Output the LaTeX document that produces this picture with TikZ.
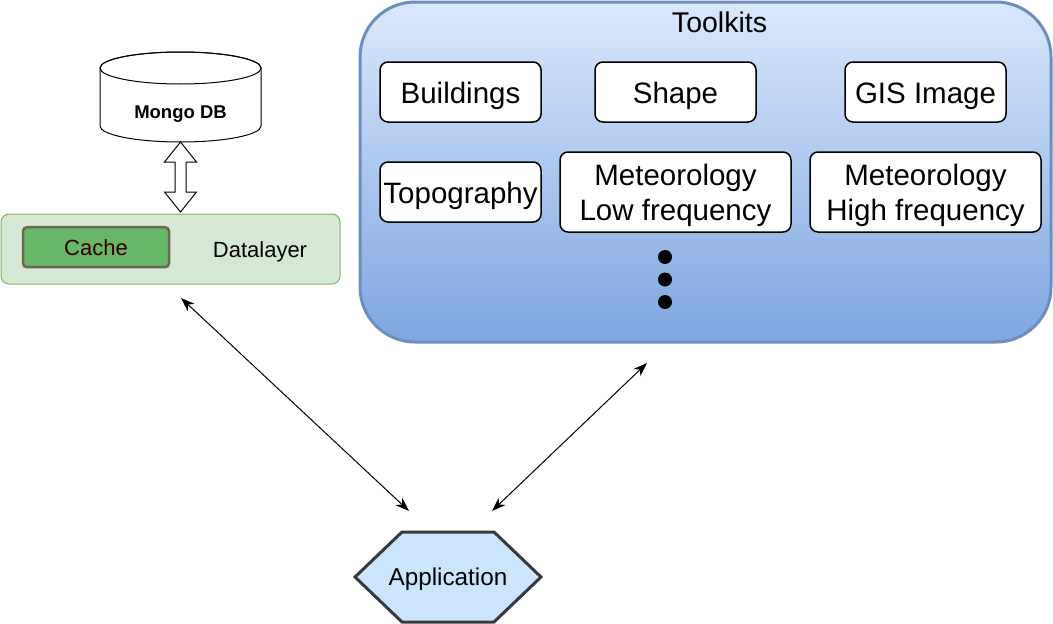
\documentclass[tikz,border=0pt]{standalone}
\usepackage{fontspec}
\setmainfont{Liberation Sans}
\usetikzlibrary{arrows.meta}
\definecolor{tkstroke}{HTML}{6C8EBF}
\definecolor{tktop}{HTML}{DAE8FC}
\definecolor{tkbot}{HTML}{7EA6E0}
\definecolor{dlfill}{HTML}{D5E8D4}
\definecolor{dlstroke}{HTML}{82B366}
\definecolor{cachefill}{HTML}{67B767}
\definecolor{cachestroke}{HTML}{6B6651}
\definecolor{cachetext}{HTML}{330000}
\definecolor{appfill}{HTML}{CCE5FF}
\definecolor{appstroke}{HTML}{36393D}
\newcommand{\twolines}[2]{\vbox{\halign{\hfil##\hfil\cr #1\cr #2\cr}}}
\tikzset{
  tkbox/.style={draw=black, fill=white, line width=1.5pt, rounded corners=8pt,
    inner sep=0pt, font=\fontsize{29.5}{35}\selectfont, text depth=0pt},
  tkone/.style={tkbox, minimum width=161pt, minimum height=60pt, text height=22.5pt},
  tktwo/.style={tkbox, minimum width=231pt, minimum height=80pt, text height=56.1pt},
  conn/.style={{Stealth[length=14pt,width=10pt]}-{Stealth[length=14pt,width=10pt]}, line width=1pt},
}
\begin{document}
\begin{tikzpicture}[x=1pt,y=-1pt]
\useasboundingbox (0,0) rectangle (1053,624);
% Mongo DB cylinder
\draw[fill=white, line width=1pt] (100,68) -- (100,126)
  arc[start angle=180, end angle=360, x radius=80.5pt, y radius=16pt]
  -- (261,68) arc[start angle=0, end angle=180, x radius=80.5pt, y radius=16pt] -- cycle;
\draw[line width=1pt] (180.5,68) ellipse[x radius=80.5pt, y radius=16pt];
\node[font=\bfseries\fontsize{18.5}{22}\selectfont, text height=13.3pt, text depth=0pt, inner sep=0pt]
  (db) at (180.5,111.7) {Mongo DB};
% hollow double arrow between Mongo DB and Datalayer
\coordinate (dbbot) at (180.5,142);
\coordinate (dltop) at (180.5,212);
\draw[fill=white, line width=1pt, line join=miter]
  (dbbot) -- ([xshift=16pt,yshift=-20pt]dbbot) -- ([xshift=5.5pt,yshift=-20pt]dbbot)
  -- ([xshift=5.5pt,yshift=20pt]dltop) -- ([xshift=16pt,yshift=20pt]dltop) -- (dltop)
  -- ([xshift=-16pt,yshift=20pt]dltop) -- ([xshift=-5.5pt,yshift=20pt]dltop)
  -- ([xshift=-5.5pt,yshift=-20pt]dbbot) -- ([xshift=-16pt,yshift=-20pt]dbbot) -- cycle;
% Datalayer
\draw[draw=dlstroke, fill=dlfill, line width=1pt, rounded corners=8pt] (1,214) rectangle (340,284);
\node[font=\fontsize{22}{26}\selectfont, text height=15.7pt, text depth=0pt, inner sep=0pt]
  (dl) at (260,249.2) {Datalayer};
\node[draw=cachestroke, fill=cachefill, line width=2.5pt, rounded corners=4pt,
  minimum width=146pt, minimum height=40pt, inner sep=0pt, text height=15.7pt, text depth=0pt,
  text=cachetext, font=\fontsize{22}{26}\selectfont] (cache) at (96,247.2) {Cache};
% Toolkits
\draw[draw=tkstroke, top color=tktop, bottom color=tkbot, line width=3pt, rounded corners=55pt]
  (360,2) rectangle (1051,342);
\node[font=\fontsize{28.5}{34}\selectfont, text height=20.4pt, text depth=0pt, inner sep=0pt]
  (tk) at (719.5,21.8) {Toolkits};
\node[tkone] (bld) at (460.5,92) {Buildings};
\node[tkone] (shp) at (675.5,92) {Shape};
\node[tkone] (gis) at (925.5,92) {GIS Image};
\node[tkone] (topo) at (460.5,192) {Topography};
\node[tktwo] (mlow) at (675.5,192) {\twolines{Meteorology}{Low frequency}};
\node[tktwo] (mhigh) at (925.5,192) {\twolines{Meteorology}{High frequency}};
\fill (665,257) circle[radius=7pt];
\fill (665,279.5) circle[radius=7pt];
\fill (665,302) circle[radius=7pt];
% Application
\draw[draw=appstroke, fill=appfill, line width=3pt, line join=miter]
  (402,532) -- (494,532) -- (541,577) -- (494,622) -- (402,622) -- (355,577) -- cycle;
\node[font=\fontsize{24.3}{28}\selectfont, text height=17.4pt, text depth=0pt, inner sep=0pt]
  (app) at (448,577) {Application};
% connectors
\coordinate (dlend) at (181,298);
\coordinate (appL) at (409,511);
\coordinate (tkend) at (647,363);
\coordinate (appR) at (492,511);
\draw[conn] (dlend) -- (appL);
\draw[conn] (tkend) -- (appR);
\end{tikzpicture}
\end{document}
